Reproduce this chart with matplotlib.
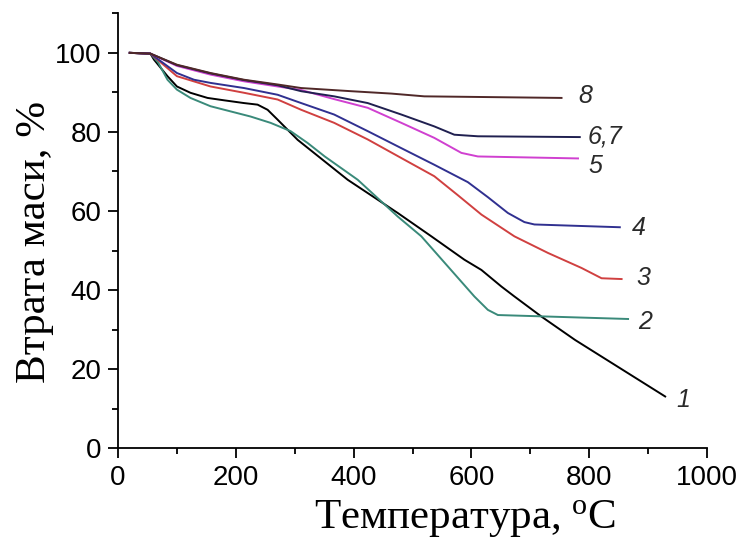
import matplotlib
matplotlib.use('Agg')
import matplotlib.pyplot as plt
from matplotlib.ticker import MultipleLocator

# curve data (temperature, mass %)
t1 = [20, 55, 61, 84, 100, 123, 152, 180, 214, 237, 254, 271, 305, 390, 475, 532, 588, 617, 651, 673, 719, 776, 929]
m1 = [100, 99.8, 98.3, 94.1, 91.5, 89.9, 88.6, 88.0, 87.3, 86.9, 85.6, 83.1, 78.0, 67.9, 59.5, 53.6, 47.7, 45.1, 40.9, 38.4, 33.3, 27.4, 13.1]

t2 = [20, 55, 68, 84, 100, 123, 157, 191, 225, 259, 293, 322, 351, 407, 475, 515, 560, 605, 628, 645, 866]
m2 = [100, 99.8, 97.6, 93.2, 90.7, 88.6, 86.5, 85.2, 83.9, 82.3, 80.2, 77.2, 73.8, 67.9, 58.6, 53.6, 46.0, 38.4, 35.0, 33.7, 32.7]

t3 = [20, 55, 100, 157, 214, 271, 311, 367, 424, 481, 537, 577, 617, 673, 730, 787, 821, 855]
m3 = [100, 99.8, 94.1, 91.5, 89.9, 88.2, 85.6, 82.3, 78.1, 73.4, 68.8, 64.0, 59.1, 53.6, 49.4, 45.6, 43.0, 42.8]

t4 = [20, 55, 100, 129, 157, 214, 271, 311, 367, 424, 481, 537, 594, 628, 662, 690, 707, 852]
m4 = [100, 99.8, 94.9, 93.2, 92.4, 91.1, 89.4, 87.3, 84.4, 80.2, 75.9, 71.7, 67.3, 63.5, 59.5, 57.2, 56.6, 55.9]

t5 = [20, 55, 100, 157, 214, 271, 311, 367, 424, 481, 537, 583, 611, 781]
m5 = [100, 99.8, 96.7, 94.5, 92.8, 91.5, 90.6, 88.3, 86.1, 82.3, 78.5, 74.7, 73.8, 73.3]

t67 = [20, 55, 100, 157, 214, 271, 311, 367, 424, 481, 537, 571, 611, 784]
m67 = [100, 99.8, 96.9, 94.8, 93.1, 91.8, 90.3, 89.0, 87.3, 84.4, 81.4, 79.3, 78.9, 78.7]

t8 = [20, 55, 100, 157, 214, 271, 311, 396, 464, 520, 753]
m8 = [100, 99.8, 97.0, 94.9, 93.2, 92.0, 91.1, 90.3, 89.7, 89.0, 88.6]

labels = ['1', '2', '3', '4', '5', '6,7', '8']
label_x = [948, 883, 880, 872, 798, 798, 781]
label_y = [12.2, 32.0, 43.0, 55.7, 71.3, 78.9, 89.0]

curves = [(t1, m1, 'black'), (t2, m2, '#3a8a7a'), (t3, m3, '#d04040'),
          (t4, m4, '#303090'), (t5, m5, '#d040d0'), (t67, m67, '#202050'),
          (t8, m8, '#502828')]

fig = plt.figure(figsize=(7.47, 5.5), dpi=100)
ax = fig.add_axes([118/747, 1 - 448.3/550, 589/747, 435/550])

for t, m, c in curves:
    ax.plot(t, m, color=c, lw=1.4)

for lab, lx, ly in zip(labels, label_x, label_y):
    ax.text(lx, ly, lab, ha='left', va='center', fontsize=18,
            style='italic', family='Liberation Sans', color='#2a2a2a')

ax.set_xlim(0, 1000)
ax.set_ylim(0, 110)
ax.spines['top'].set_visible(False)
ax.spines['right'].set_visible(False)
ax.xaxis.set_major_locator(MultipleLocator(200))
ax.xaxis.set_minor_locator(MultipleLocator(100))
ax.yaxis.set_major_locator(MultipleLocator(20))
ax.yaxis.set_minor_locator(MultipleLocator(10))
ax.tick_params(which='major', direction='out', length=7, width=1.3, labelsize=20, pad=5)
ax.tick_params(which='minor', direction='out', length=4, width=1.3)
for s in ['left', 'bottom']:
    ax.spines[s].set_linewidth(1.3)
for lab in ax.get_xticklabels() + ax.get_yticklabels():
    lab.set_family('Liberation Sans')

ax.set_xlabel(r'Температура, $\mathregular{^{o}}$C', family='Liberation Serif', fontsize=31)
ax.set_ylabel('Втрата маси, %', family='Liberation Serif', fontsize=31)
ax.xaxis.set_label_coords(0.589, -0.115)
ax.yaxis.set_label_coords(-0.108, 0.474)

fig.savefig('out.png', dpi=100)
